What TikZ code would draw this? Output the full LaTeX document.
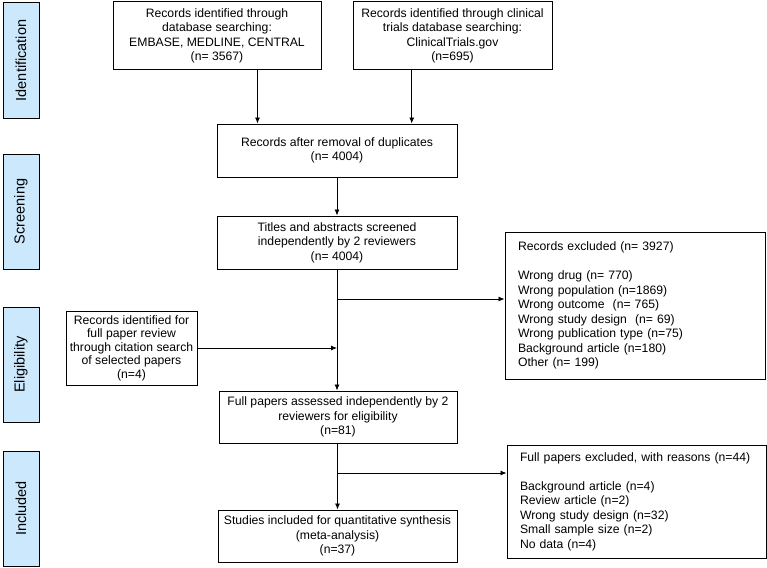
\documentclass[tikz,border=0pt]{standalone}
\usepackage{fontspec}
\setmainfont{Liberation Sans}
\usepackage{tikz}
\usetikzlibrary{calc,arrows.meta}
\definecolor{phaseblue}{RGB}{204,232,252}

\begin{document}
\begin{tikzpicture}[x=1pt,y=-1pt,
    box/.style={draw, line width=1pt, align=center, inner sep=0pt,
      font=\fontsize{12.2}{14.5}\selectfont},
    listbox/.style={box, align=left},
    phase/.style={draw, line width=1pt, fill=phaseblue, rotate=90, inner sep=0pt,
      minimum width=115pt, minimum height=36pt, font=\fontsize{14.5}{17}\selectfont},
    arr/.style={line width=0.8pt, -{Latex[length=6pt,width=5pt]}},
    ln/.style={line width=0.8pt}]
    \useasboundingbox (0,0) rectangle (767,567);
    \node[phase] (pid) at (21,60.5) {Identification};
    \node[phase] (psc) at (21,211.5) {Screening};
    \node[phase] (pel) at (21,364.5) {Eligibility};
    \node[phase] (pin) at (21,508.5) {Included};
    \node[box, minimum width=208pt, minimum height=68pt] (dbsearch) at (217,36)
      {Records identified through\\database searching:\\EMBASE, MEDLINE, CENTRAL\\(n= 3567)};
    \node[box, minimum width=199pt, minimum height=68pt] (trials) at (452.5,36)
      {Records identified through clinical\\trials database searching:\\ClinicalTrials.gov\\(n=695)};
    \node[box, minimum width=240pt, minimum height=53pt] (dupl) at (337,150.5)
      {Records after removal of duplicates\\(n= 4004)};
    \node[box, minimum width=240pt, minimum height=53pt] (screen) at (337,242.5)
      {Titles and abstracts screened\\independently by 2 reviewers\\(n= 4004)};
    \node[listbox, text width=234pt, minimum width=260pt, minimum height=147pt] (excl) at (635,305.5)
      {Records excluded (n= 3927)\\[14.5pt]
       Wrong drug (n= 770)\\
       Wrong population (n=1869)\\
       Wrong outcome~ (n= 765)\\
       Wrong study design~ (n= 69)\\
       Wrong publication type (n=75)\\
       Background article (n=180)\\
       Other (n= 199)};
    \node[box, minimum width=131pt, minimum height=74pt,
      font=\fontsize{12.2}{13.5}\selectfont] (cite) at (131.5,348)
      {Records identified for\\full paper review\\through citation search\\of selected papers\\(n=4)};
    \node[box, minimum width=238pt, minimum height=52pt] (full) at (338,417)
      {Full papers assessed independently by 2\\reviewers for eligibility\\(n=81)};
    \node[listbox, text width=233pt, minimum width=259pt, minimum height=113pt] (fexcl) at (636.5,501.5)
      {Full papers excluded, with reasons (n=44)\\[14.5pt]
       Background article (n=4)\\
       Review article (n=2)\\
       Wrong study design (n=32)\\
       Small sample size (n=2)\\
       No data (n=4)};
    \node[box, minimum width=239pt, minimum height=52pt] (incl) at (337.5,536)
      {Studies included for quantitative synthesis\\(meta-analysis)\\(n=37)};
    \coordinate (d1) at ($(dupl.north west)!.17!(dupl.north east)$);
    \coordinate (d2) at ($(dupl.north west)!.81!(dupl.north east)$);
    \draw[arr] (dbsearch.south -| d1) -- (d1);
    \draw[arr] (trials.south -| d2) -- (d2);
    \draw[arr] (dupl.south) -- (screen.north);
    \coordinate (b1) at (337,299);
    \coordinate (b2) at (337,473);
    \draw[arr] (screen.south) -- (full.north -| screen.south);
    \draw[arr] (b1) -- (b1 -| excl.west);
    \draw[arr] (cite.east) -- (cite.east -| screen.south);
    \draw[arr] (full.south -| incl.north) -- (incl.north);
    \draw[arr] (b2) -- (b2 -| fexcl.west);
\end{tikzpicture}
\end{document}
